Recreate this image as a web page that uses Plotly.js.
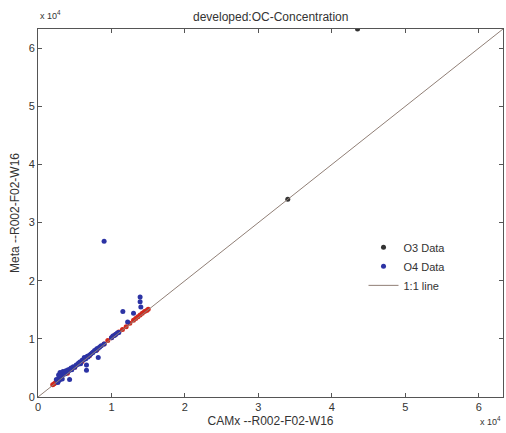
<!DOCTYPE html>
<html><head><meta charset="utf-8">
<script src="https://cdn.plot.ly/plotly-3.0.1.min.js"></script>
<style>html,body{margin:0;padding:0;background:#fff;}#chart{width:506px;height:433px;}</style>
</head><body><div id="chart"></div>
<script>
// values in units of 1e4
const o3X = [4.35, 3.40];
const o3Y = [6.33, 3.40];
const o4X = [0.25,0.27,0.28,0.28,0.29,0.30,0.30,0.31,0.32,0.33,0.33,0.34,0.35,0.36,0.37,0.38,0.40,0.41,0.42,0.44,0.45,0.46,0.48,0.50,0.52,0.54,0.55,0.57,0.58,0.60,0.62,0.63,0.65,0.67,0.68,0.70,0.72,0.74,0.75,0.77,0.79,0.80,0.82,0.84,0.86,0.90,1.00,1.02,1.04,1.06,1.08,1.10,
  1.39,1.39,1.40,1.155,1.30,1.22,0.82,0.66,0.66,0.43,0.90];
const o4Y = [0.30,0.25,0.38,0.28,0.33,0.42,0.30,0.35,0.40,0.37,0.31,0.44,0.39,0.42,0.40,0.45,0.43,0.47,0.45,0.48,0.50,0.47,0.52,0.51,0.55,0.56,0.58,0.60,0.57,0.63,0.64,0.68,0.66,0.70,0.69,0.72,0.74,0.76,0.77,0.80,0.80,0.83,0.84,0.86,0.88,0.91,1.02,1.05,1.06,1.08,1.10,1.11,
  1.72,1.64,1.55,1.47,1.44,1.29,0.68,0.55,0.46,0.30,2.68];
const redX = [0.20,0.22,0.24,0.30,0.40,0.50,0.60,0.70,0.80,0.90,0.95,1.00,1.05,1.10,1.15,1.20,1.25,1.30,1.33,1.36,1.39,1.42,1.45,1.48,1.50];
const redY = [0.21,0.23,0.25,0.31,0.41,0.51,0.61,0.71,0.81,0.91,0.97,1.02,1.07,1.12,1.16,1.21,1.27,1.32,1.35,1.38,1.41,1.44,1.47,1.49,1.51];
const lineX = [0, 6.33];
const lineY = [0, 6.33];
const tickVals = [0,1,2,3,4,5,6];
const tickText = ['0','1','2','3','4','5','6'];

const scale = v => v.map(a => a*1e4);
const traces = [
  {x: scale(redX), y: scale(redY), mode:'markers', type:'scatter', showlegend:false,
   marker:{color:'#d02a1e', size:5}},
  {x: scale(o4X), y: scale(o4Y), mode:'markers', type:'scatter', name:'O4 Data', legendrank:2,
   marker:{color:'#2c33a4', size:5}},
  {x: scale(o3X), y: scale(o3Y), mode:'markers', type:'scatter', name:'O3 Data', legendrank:1,
   marker:{color:'#333333', size:5}},
  {x: scale(lineX), y: scale(lineY), mode:'lines', type:'scatter', name:'1:1 line', legendrank:3,
   line:{color:'#907f76', width:1}}
];
const ax = {
  range:[0, 63300], tickvals: scale(tickVals), ticktext: tickText,
  ticks:'inside', ticklen:4, tickcolor:'#555', showline:true, linecolor:'#555', linewidth:1,
  mirror:'allticks', showgrid:false, zeroline:false,
  tickfont:{family:'Liberation Sans, Arial, sans-serif', size:11, color:'#333'}
};
const layout = {
  width:506, height:433,
  margin:{l:38, r:3, t:29, b:36},
  paper_bgcolor:'#fff', plot_bgcolor:'#fff',
  font:{family:'Liberation Sans, Arial, sans-serif', color:'#333'},
  title:{text:'developed:OC-Concentration', x:0.535, xanchor:'center', y:0.962, yanchor:'middle',
    font:{size:12, color:'#333'}},
  xaxis:Object.assign({}, ax, {title:{text:'CAMx --R002-F02-W16', font:{size:12}, standoff:4}}),
  yaxis:Object.assign({}, ax, {title:{text:'Meta --R002-F02-W16', font:{size:12}, standoff:6}}),
  legend:{x:0.70, y:0.446, xanchor:'left', yanchor:'top', bgcolor:'rgba(0,0,0,0)',
    font:{size:11, color:'#333'}, tracegroupgap:0, traceorder:'normal'},
  annotations:[
    {text:'x 10<sup>4</sup>', xref:'paper', yref:'paper', x:0, y:1, xanchor:'left', yanchor:'bottom',
     yshift:6, showarrow:false, font:{size:9, color:'#333'}},
    {text:'x 10<sup>4</sup>', xref:'paper', yref:'paper', x:1, y:0, xanchor:'right', yanchor:'top',
     yshift:-16, showarrow:false, font:{size:9, color:'#333'}}
  ],
  showlegend:true
};
Plotly.newPlot('chart', traces, layout, {displayModeBar:false, staticPlot:true});
</script></body></html>
